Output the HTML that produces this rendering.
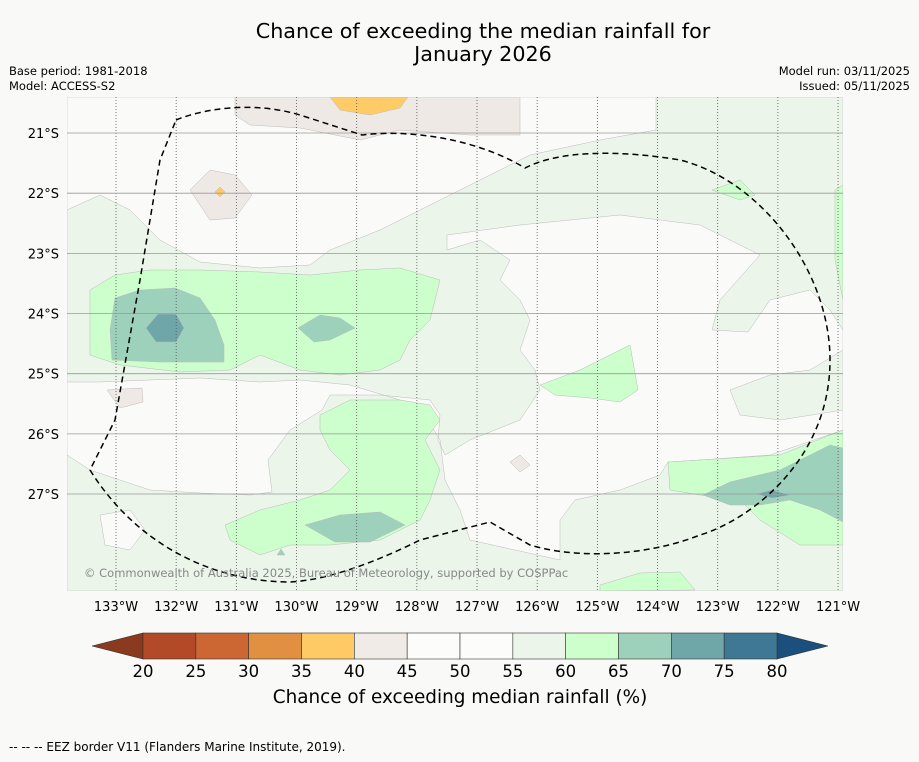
<!DOCTYPE html>
<html><head><meta charset="utf-8">
<style>
body{margin:0;background:#f9faf8;font-family:"DejaVu Sans",sans-serif;}
svg text{font-family:"DejaVu Sans","Liberation Sans",sans-serif;}
</style></head>
<body>
<svg width="919" height="758" viewBox="0 0 919 758" xmlns="http://www.w3.org/2000/svg">
<rect width="919" height="758" fill="#f9faf8"/>
<text x="483" y="38" font-size="20.7" text-anchor="middle">Chance of exceeding the median rainfall for</text>
<text x="483" y="61" font-size="20.7" text-anchor="middle">January 2026</text>
<text x="9" y="75" font-size="11.5">Base period: 1981-2018</text>
<text x="9" y="90" font-size="11.5">Model: ACCESS-S2</text>
<text x="910" y="75" font-size="11.5" text-anchor="end">Model run: 03/11/2025</text>
<text x="910" y="90" font-size="11.5" text-anchor="end">Issued: 05/11/2025</text>

<defs><clipPath id="mc"><rect x="67" y="97" width="776" height="494"/></clipPath></defs>
<g clip-path="url(#mc)" stroke="#bbb" stroke-width="0.5">
<rect x="67" y="97" width="776" height="494" fill="#ebf5ea"/>
<polygon fill="#fafbf9" points="67,97 656,97 656,130 600,140 530,155 500,170 460,190 420,210 380,230 330,250 310,265 260,268 200,262 160,240 130,210 100,195 67,210"/>
<polygon fill="#fafbf9" points="447,235 520,225 620,215 700,225 760,255 720,300 712,330 748,332 770,300 810,290 830,310 843,330 843,350 810,370 770,375 730,390 740,415 780,420 843,410 843,430 770,455 700,460 668,462 660,475 620,490 575,500 560,520 560,560 470,540 460,510 445,480 440,440 425,415 400,400 350,385 300,380 260,382 200,378 100,382 67,382 67,455 90,470 150,490 200,493 250,495 272,492 268,460 290,430 322,410 330,395 380,395 430,400 440,415 438,440 445,455 470,440 520,420 540,390 535,370 520,350 530,320 520,300 500,280 510,260 480,240 447,250"/>
<polygon fill="#fafbf9" points="100,515 130,510 145,530 130,550 105,545"/>
<polygon fill="#ccffcc" points="90,290 115,275 150,270 200,270 260,272 310,275 360,270 400,268 440,280 430,320 410,340 400,360 380,370 340,375 300,370 260,355 230,370 180,372 120,365 90,355"/>
<polygon fill="#ccffcc" points="320,415 350,400 400,400 430,405 440,420 425,440 440,470 430,500 420,520 380,540 330,545 290,545 260,555 230,540 225,525 260,510 300,500 330,490 350,470 330,450 320,430"/>
<polygon fill="#ccffcc" points="540,385 580,370 610,355 630,345 638,390 620,402 590,398 555,395"/>
<polygon fill="#ccffcc" points="668,462 700,460 780,455 843,430 843,545 800,545 760,520 740,500 700,495 670,490"/>
<polygon fill="#ccffcc" points="835,190 843,185 843,300 835,260"/>
<polygon fill="#ccffcc" points="712,190 740,180 755,195 740,200"/>
<polygon fill="#ccffcc" points="600,585 640,573 680,572 695,590 600,591"/>
<polygon fill="#9dd1bc" points="115,298 140,290 175,288 200,298 215,320 224,345 224,362 160,362 112,360 110,330"/>
<polygon fill="#9dd1bc" points="298,328 320,315 340,318 355,328 330,340 314,342"/>
<polygon fill="#9dd1bc" points="305,525 340,515 380,512 405,525 370,542 335,542"/>
<polygon fill="#9dd1bc" points="703,495 730,482 780,470 810,455 830,445 843,448 843,522 820,510 790,500 760,505 730,505"/>
<polygon fill="#6fa6a8" points="146,328 158,314 176,314 184,328 176,342 156,342"/>
<polygon fill="#6fa6a8" points="756,494 772,490 790,495 772,498"/>
<polygon fill="#efe9e5" points="235,97 520,97 520,135 470,135 400,130 360,140 300,128 250,125 235,115"/>
<polygon fill="#efe9e5" points="190,190 210,170 235,175 252,195 235,218 210,220"/>
<polygon fill="#efe9e5" points="107,390 142,388 143,402 120,408"/>
<polygon fill="#efe9e5" points="510,462 520,455 530,465 520,472"/>
<polygon fill="#fecb66" points="330,97 408,97 400,108 370,115 340,110"/>
<polygon fill="#fecb66" points="215,192 220,187 225,192 220,197"/>
<polygon fill="#9dd1bc" points="277,555 281,549 285,555"/>
</g>
<g id="grid"></g>
<path fill="none" stroke="#000" stroke-width="1.5" stroke-dasharray="6,4" d="M176,120 C200,110 250,100 300,115 L362,135 C400,130 470,135 525,168 C560,150 620,150 680,160 C760,180 830,270 830,360 C830,460 750,520 700,535 C650,555 580,560 530,545 L490,522 L420,540 C380,560 330,580 290,582 C220,582 140,550 90,470 L115,420 L140,280 L160,160 Z"/>
<text x="84" y="577" font-size="11.5" fill="#888">© Commonwealth of Australia 2025, Bureau of Meteorology, supported by COSPPac</text>
<g id="axes"></g>
<g id="cbar"></g>
<text x="460" y="703" font-size="18.4" text-anchor="middle">Chance of exceeding median rainfall (%)</text>
<text x="9" y="751" font-size="12">--  --  -- EEZ border V11 (Flanders Marine Institute, 2019).</text>
</svg>
<script>
const lonTicks=[133,132,131,130,129,128,127,126,125,124,123,122,121];
const latTicks=[21,22,23,24,25,26,27];
const cbarLevels=[20,25,30,35,40,45,50,55,60,65,70,75,80];
const cbarColors=["#b24a28","#cc6633","#e09040","#fdca65","#f0ebe6","#fcfcfb","#fcfcfb","#ebf5ea","#ccffcc","#9dd1bc","#6fa6a8","#3f7894"];
const NS="http://www.w3.org/2000/svg";
const xLon=l=>116+(133-l)*60.17;
const yLat=l=>133+(l-21)*60.17;
const xC=v=>143+(v-20)*10.567;
function mk(t,a,p){const e=document.createElementNS(NS,t);for(const k in a)e.setAttribute(k,a[k]);p.appendChild(e);return e;}
const g=document.getElementById('grid'),ax=document.getElementById('axes'),cb=document.getElementById('cbar');
lonTicks.forEach(l=>{const x=xLon(l);
 const ln=mk('line',{x1:x,y1:97,x2:x,y2:591,stroke:'#555','stroke-width':0.8,'stroke-dasharray':'1,2'},g);
 
 
 const t=mk('text',{x:x,y:611,'font-size':13,'text-anchor':'middle'},ax);t.textContent=l+'°W';
 
 });
latTicks.forEach(l=>{const y=yLat(l);
 const ln=mk('line',{x1:67,y1:y,x2:843,y2:y,stroke:'#999','stroke-width':0.8},g);
 
 
 const t=mk('text',{x:59,y:y+5,'font-size':13,'text-anchor':'end'},ax);t.textContent=l+'°S';
 
 });
const l0=mk('polygon',{points:`${xC(20)},633 ${xC(20)},659 92,646`,fill:'#8b3a20',stroke:'#333','stroke-width':0.6},cb);


const r0=mk('polygon',{points:`${xC(80)},633 ${xC(80)},659 828,646`,fill:'#1a4f7e',stroke:'#333','stroke-width':0.6},cb);


cbarColors.forEach((c,i)=>{const r=mk('rect',{x:xC(cbarLevels[i]),y:633,width:xC(cbarLevels[i+1])-xC(cbarLevels[i]),height:26,fill:c,stroke:'#333','stroke-width':0.6},cb);
 
 });
cbarLevels.forEach(v=>{const t=mk('text',{x:xC(v),y:677,'font-size':16.5,'text-anchor':'middle'},cb);t.textContent=v;
 
 });
</script>
</body></html>
